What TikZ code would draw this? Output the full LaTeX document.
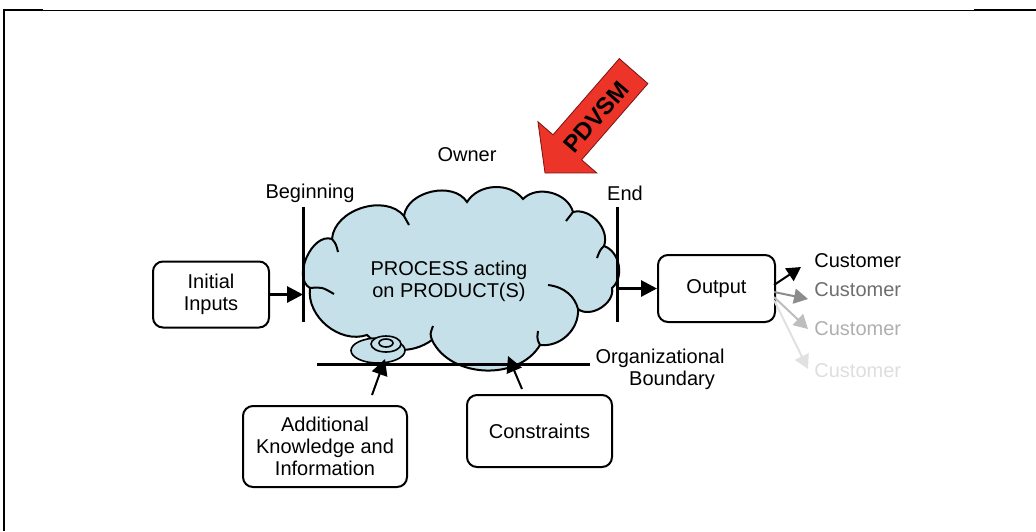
\documentclass[tikz,border=0pt]{standalone}
\usepackage{fontspec}
\setmainfont{Liberation Sans}
\usetikzlibrary{shapes.geometric,arrows.meta}
\definecolor{cloudblue}{RGB}{197,224,232}
\definecolor{pdred}{RGB}{236,52,40}
\begin{document}
\begin{tikzpicture}[x=0.5pt,y=-0.5pt,
  every node/.style={font=\fontsize{10}{11}\selectfont, inner sep=0pt},
  box/.style={draw, line width=1pt, rounded corners=5pt, fill=white, align=center},
  marker/.style={line width=1.5pt},
  bigarr/.style={line width=1.5pt, -{Triangle[length=8pt,width=8pt]}},
  carr/.style={line width=1pt, -{Triangle[length=8pt,width=8pt]}},
  custarr/.style={line width=1pt, -{Triangle[length=7pt,width=7.5pt]}},
  curl/.style={line width=1pt}
]
\useasboundingbox (0,0) rectangle (1036,531);
% frame
\draw[line width=0.5pt] (43,10) -- (974,10);
\draw[line width=1pt] (4,531) -- (4,10) -- (43,10);
\draw[line width=1pt] (974,10) -- (1036,10);

% cloud
\path[draw, fill=cloudblue, line width=1pt]
  (310,288) to[bend left=85] (332,239) to[bend left=68] (404,216)
  to[bend left=70] (467,202) to[bend left=55] (523,199)
  to[bend left=60] (573,212) to[bend left=62] (604,246)
  to[bend left=60] (612,288) to[bend left=70] (578,309)
  to[bend left=50] (540,345) to[bend left=62] (432,340)
  to[bend left=40] (367,335) to[bend left=58] (310,288) -- cycle;
\draw[curl] (332,239) .. controls (336,244) .. (338,252);
\draw[curl] (404,216) .. controls (406,220) .. (409,225);
\draw[curl] (573,212) .. controls (570,216) .. (566,221);
\draw[curl] (604,246) .. controls (600,250) .. (597,258);
\draw[curl] (548,285) .. controls (565,287) and (575,297) .. (578,309);
\draw[curl] (310,288) .. controls (322,287) .. (334,294);
\draw[curl] (432,340) .. controls (430,334) .. (433,326);
\draw[curl] (540,345) .. controls (537,339) .. (538,331);
\node[align=center] (proc) at (449,281) {PROCESS acting\\on PRODUCT(S)};

% knowledge ellipse and disk
\node[ellipse, draw, fill=cloudblue, line width=0.8pt, minimum width=27pt, minimum height=12.5pt] (kn) at (378,350.5) {};
\draw[line width=0.8pt, fill=cloudblue] (386,344) ellipse [x radius=15, y radius=8];
\draw[line width=0.8pt] (386,343) ellipse [x radius=7, y radius=4];

% organisational boundary
\coordinate (ob1) at (317,364);
\coordinate (ob2) at (590,364);
\draw[marker] (ob1) -- (ob2);
\node (org) at (660,358) {Organizational};
\node (bnd) at (672,380) {Boundary};

% beginning / end markers
\coordinate (b1) at (303,207);
\coordinate (b2) at (303,322);
\coordinate (e1) at (617,207);
\coordinate (e2) at (617,322);
\draw[marker] (b1) -- (b2);
\draw[marker] (e1) -- (e2);
\node (beg) at (310,193) {Beginning};
\node (endl) at (625,193) {End};
\node (owner) at (467,155) {Owner};

% boxes
\node[box, minimum width=58pt, minimum height=33pt] (ini) at (211,294.5) {Initial\\Inputs};
\node[box, minimum width=58.5pt, minimum height=33.5pt] (out) at (716.5,288.5) {Output};
\node[box, minimum width=82pt, minimum height=40.5pt] (add) at (325,446.5) {Additional\\Knowledge and\\Information};
\node[box, minimum width=72.5pt, minimum height=36pt] (con) at (539.5,431) {Constraints};

\draw[bigarr] (ini.east) -- (ini.east -| b1);
\draw[bigarr] (out.west -| e1) -- (out.west);

% connectors into process
\coordinate (a1) at (372,395);
\coordinate (a2) at (385,359);
\coordinate (c1) at (522,389);
\coordinate (c2) at (508,356);
\draw[carr] (a1) -- (a2);
\draw[carr] (c1) -- (c2);

% customers
\node[anchor=west] (cu1) at (814,261) {Customer};
\node[anchor=west, text={rgb,255:red,110;green,110;blue,110}] (cu2) at (814,290) {Customer};
\node[anchor=west, text={rgb,255:red,175;green,175;blue,175}] (cu3) at (814,329) {Customer};
\node[anchor=west, text={rgb,255:red,222;green,222;blue,222}] (cu4) at (814,371) {Customer};
\coordinate (s1) at (774,285);
\coordinate (s2) at (774,292);
\coordinate (s3) at (774,297);
\coordinate (s4) at (774,300);
\coordinate (t1) at (801,267);
\coordinate (t2) at (808,299);
\coordinate (t3) at (808,329);
\coordinate (t4) at (808,369);
\draw[custarr, draw={rgb,255:red,225;green,225;blue,225}, fill={rgb,255:red,225;green,225;blue,225}] (s4) -- (t4);
\draw[custarr, draw={rgb,255:red,190;green,190;blue,190}, fill={rgb,255:red,190;green,190;blue,190}] (s3) -- (t3);
\draw[custarr, draw={rgb,255:red,140;green,140;blue,140}, fill={rgb,255:red,140;green,140;blue,140}] (s2) -- (t2);
\draw[custarr, black] (s1) -- (t1);

% PDVSM arrow
\draw[fill=pdred, draw={rgb,255:red,120;green,20;blue,20}, line width=0.4pt]
  (545,173) -- (596.7,172.9) -- (581.6,159.8) -- (647.9,83.6) -- (619.3,58.6)
  -- (553,134.8) -- (537.9,121.7) -- cycle;
\node[rotate=49, font=\fontsize{12}{13}\bfseries\selectfont] (pdvsm) at (596,117) {PDVSM};
\end{tikzpicture}
\end{document}
